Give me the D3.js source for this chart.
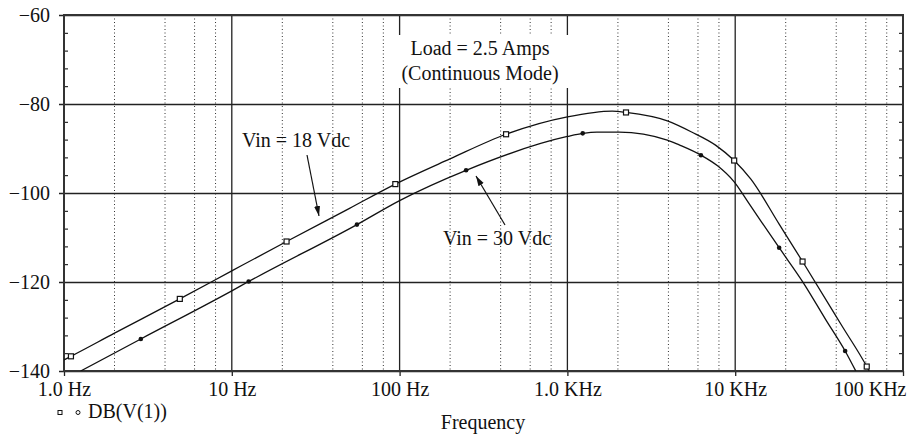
<!DOCTYPE html>
<html>
<head>
<meta charset="utf-8">
<script src="https://cdn.jsdelivr.net/npm/d3@7"></script>
<style>
  body { margin: 0; background: #fff; }
  text { font-family: "Liberation Serif", "Times New Roman", serif; fill: #111; }
</style>
</head>
<body>
<div id="chart"></div>
<script>
// frequency (Hz) and magnitude (dB)
var freq18 = [1.0, 1.1, 2.0, 4.9, 10, 21.2, 50, 94.3, 198, 431, 1000, 1850, 2235, 3940, 5500, 7670, 9860, 12400, 18280, 25200, 43500, 60800, 62800];
var db18   = [-137.5, -136.7, -131.5, -123.8, -117.5, -110.9, -103.5, -98.0, -92.4, -86.8, -82.9, -81.6, -81.9, -83.8, -86.3, -89.3, -92.7, -96.9, -107.0, -115.4, -130.0, -139.0, -140];

var freq30 = [1.257, 2.87, 10, 12.6, 55.7, 100, 249, 1000, 1234, 1500, 2040, 3940, 4640, 6250, 7850, 9860, 12100, 18280, 25200, 34700, 45200, 52300];
var db30   = [-140, -132.8, -122.0, -119.9, -107.1, -101.7, -94.9, -87.3, -86.6, -86.3, -86.3, -88.1, -89.2, -91.5, -93.9, -97.5, -102.4, -112.3, -119.9, -128.5, -135.5, -140];

// marker positions
var mark18F  = [1.1, 4.9, 21.2, 94.3, 431, 2235, 9860, 25200, 60800];
var mark18Db = [-136.7, -123.8, -110.9, -98.0, -86.8, -81.9, -92.7, -115.4, -139.0];
var mark30F  = [2.87, 12.6, 55.7, 249, 1234, 6250, 18280, 45200];
var mark30Db = [-132.8, -119.9, -107.1, -94.9, -86.6, -91.5, -112.3, -135.5];

var xTicks = [1, 10, 100, 1000, 10000, 100000];
var xTickLabels = ["1.0 Hz", "10 Hz", "100 Hz", "1.0 KHz", "10 KHz", "100 KHz"];
var yTicks = [-60, -80, -100, -120, -140];

var margin = {top: 15, right: 12, bottom: 67, left: 64},
    width = 915 - margin.left - margin.right,
    height = 438 - margin.top - margin.bottom;

var svg = d3.select("#chart")
  .append("svg")
    .attr("width", 915)
    .attr("height", 438)
  .append("g")
    .attr("transform", "translate(" + margin.left + "," + margin.top + ")");

var x = d3.scaleLog().domain([1, 100000]).range([0, width]);
var y = d3.scaleLinear().domain([-140, -60]).range([height, 0]);

// minor frequencies: 2,4,6,8 in each decade
var xMinor = [];
xTicks.slice(0, -1).forEach(function(d) { [2, 4, 6, 8].forEach(function(m) { xMinor.push(d * m); }); });
var yMinor = d3.range(-140, -60, 4).filter(function(v) { return yTicks.indexOf(v) < 0; });

// dotted vertical grid
svg.selectAll(".vminor")
  .data(xMinor).enter()
  .append("line")
    .attr("x1", function(d) { return x(d); })
    .attr("x2", function(d) { return x(d); })
    .attr("y1", 0).attr("y2", height)
    .style("stroke", "#333")
    .style("stroke-width", 1)
    .style("stroke-dasharray", "1,2.5");

// solid vertical grid at decades
svg.selectAll(".vmajor")
  .data(xTicks).enter()
  .append("line")
    .attr("x1", function(d) { return x(d); })
    .attr("x2", function(d) { return x(d); })
    .attr("y1", 0).attr("y2", height)
    .style("stroke", "#222")
    .style("stroke-width", 1.3);

// horizontal grid with outer ticks + labels
var yAxis = svg.append("g")
  .call(d3.axisLeft(y).tickValues(yTicks).tickSize(5).tickPadding(9));
yAxis.select(".domain").remove();
yAxis.selectAll("text").style("font-size", "20px").attr("dy", "0.3em");
yAxis.selectAll(".tick line").attr("x2", width).attr("x1", -5)
  .style("stroke", "#222").style("stroke-width", 1.3);

// small inner ticks on both sides
var yLeftMinor = svg.append("g")
  .call(d3.axisRight(y).tickValues(yMinor).tickSize(4).tickFormat(""));
yLeftMinor.select(".domain").remove();
var yRightMinor = svg.append("g")
  .attr("transform", "translate(" + width + ",0)")
  .call(d3.axisLeft(y).tickValues(yMinor).tickSize(4).tickFormat(""));
yRightMinor.select(".domain").remove();

// bottom axis
var xAxis = svg.append("g")
  .attr("transform", "translate(0," + height + ")")
  .call(d3.axisBottom(x).tickValues(xTicks).tickSize(5).tickPadding(6)
    .tickFormat(function(d, i) { return xTickLabels[i]; }));
xAxis.select(".domain").remove();
xAxis.selectAll(".tick line").style("stroke", "#222").style("stroke-width", 1.3);
xAxis.selectAll("text").style("font-size", "20px");
xAxis.selectAll(".tick").filter(function(d) { return d === 100000; })
  .select("text").attr("text-anchor", "end").attr("x", 3);

// frame
svg.append("rect")
  .attr("width", width).attr("height", height)
  .style("fill", "none")
  .style("stroke", "#333")
  .style("stroke-width", 2);

// white box behind the title text
svg.append("rect")
  .attr("x", x(90) ).attr("y", 20)
  .attr("width", x(1150) - x(90)).attr("height", 53)
  .style("fill", "#fff");

svg.append("text")
  .attr("x", 416).attr("y", 40)
  .attr("text-anchor", "middle")
  .style("font-size", "20px")
  .text("Load = 2.5 Amps");
svg.append("text")
  .attr("x", 416).attr("y", 65)
  .attr("text-anchor", "middle")
  .style("font-size", "20px")
  .text("(Continuous Mode)");

// clip for the curves
svg.append("clipPath").attr("id", "clip")
  .append("rect").attr("width", width).attr("height", height);

var line = d3.line()
  .x(function(d) { return x(d[0]); })
  .y(function(d) { return y(d[1]); })
  .curve(d3.curveMonotoneX);

var curves = [
  d3.zip(freq18, db18),
  d3.zip(freq30, db30)
];

svg.append("g").attr("clip-path", "url(#clip)")
  .selectAll("path")
  .data(curves).enter()
  .append("path")
    .attr("d", line)
    .style("fill", "none")
    .style("stroke", "#111")
    .style("stroke-width", 1.3);

// square markers (18 Vdc)
svg.selectAll(".sq")
  .data(d3.zip(mark18F, mark18Db)).enter()
  .append("rect")
    .attr("x", function(d) { return x(d[0]) - 2.5; })
    .attr("y", function(d) { return y(d[1]) - 2.5; })
    .attr("width", 5).attr("height", 5)
    .style("fill", "#fff")
    .style("stroke", "#111")
    .style("stroke-width", 1.2);

// dot markers (30 Vdc)
svg.selectAll(".dot")
  .data(d3.zip(mark30F, mark30Db)).enter()
  .append("circle")
    .attr("cx", function(d) { return x(d[0]); })
    .attr("cy", function(d) { return y(d[1]); })
    .attr("r", 2.3)
    .style("fill", "#111");

// arrows
svg.append("defs").append("marker")
  .attr("id", "arrow")
  .attr("viewBox", "0 0 10 10")
  .attr("refX", 10).attr("refY", 5)
  .attr("markerWidth", 10).attr("markerHeight", 10)
  .attr("markerUnits", "userSpaceOnUse")
  .attr("orient", "auto")
  .append("path")
    .attr("d", "M0,2 L10,5 L0,8 Z")
    .style("fill", "#111");

svg.append("text")
  .attr("x", 232).attr("y", 132)
  .attr("text-anchor", "middle")
  .style("font-size", "20px")
  .text("Vin = 18 Vdc");
svg.append("line")
  .attr("x1", 243).attr("y1", 140).attr("x2", 255).attr("y2", 201)
  .style("stroke", "#111").style("stroke-width", 1.2)
  .attr("marker-end", "url(#arrow)");

svg.append("text")
  .attr("x", 379).attr("y", 230)
  .style("font-size", "20px")
  .text("Vin = 30 Vdc");
svg.append("line")
  .attr("x1", 441).attr("y1", 210).attr("x2", 412).attr("y2", 161)
  .style("stroke", "#111").style("stroke-width", 1.2)
  .attr("marker-end", "url(#arrow)");

// x title
svg.append("text")
  .attr("x", 419).attr("y", 414)
  .attr("text-anchor", "middle")
  .style("font-size", "20px")
  .text("Frequency");

// legend
svg.append("rect")
  .attr("x", -6).attr("y", 395.5).attr("width", 4).attr("height", 4)
  .style("fill", "#fff").style("stroke", "#111").style("stroke-width", 1);
svg.append("circle")
  .attr("cx", 14).attr("cy", 397.5).attr("r", 2)
  .style("fill", "#fff").style("stroke", "#111").style("stroke-width", 1);
svg.append("text")
  .attr("x", 24).attr("y", 403)
  .style("font-size", "20px")
  .text("DB(V(1))");
</script>
</body>
</html>
